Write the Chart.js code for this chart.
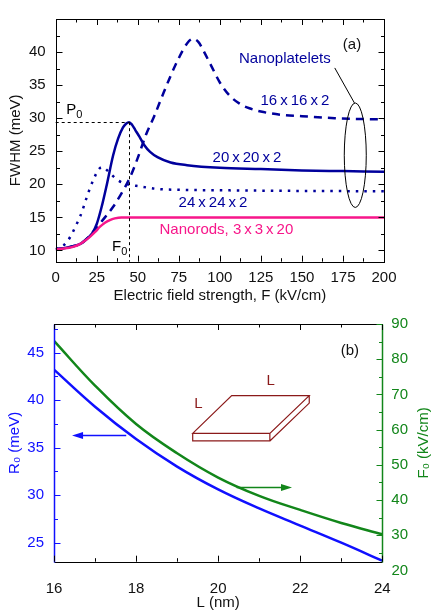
<!DOCTYPE html>
<html>
<head>
<meta charset="utf-8">
<script src="https://cdn.jsdelivr.net/npm/chart.js@4.4.1/dist/chart.umd.min.js"></script>
<style>
  html, body { margin: 0; padding: 0; background: #fff; }
  #top { position: absolute; left: 0; top: 0; width: 434px; height: 305px; }
  #bot { position: absolute; left: 0; top: 305px; width: 434px; height: 307px; }
</style>
</head>
<body>
<div id="top"><canvas id="chart-fwhm"></canvas></div>
<div id="bot"><canvas id="chart-size"></canvas></div>
<script>
// --- (a) FWHM vs electric field ---
const rodF  = [0, 5, 10, 15, 18, 21, 24, 27, 30, 33, 36, 40, 45, 200];
const rodW  = [10.2, 10.3, 10.5, 11.0, 11.5, 12.1, 12.8, 13.6, 14.2, 14.6, 14.85, 15.0, 15.0, 15.0];
const p20F  = [0, 5, 10, 15, 20, 22.5, 25, 28, 31, 35, 38, 41, 43, 44.7, 46.5, 48.5, 51, 54, 57.5, 62, 70, 80, 100, 125, 150, 175, 200];
const p20W  = [10.2, 10.35, 10.6, 11.0, 12.0, 12.7, 14.0, 16.6, 19.8, 24.4, 26.9, 28.6, 29.2, 29.4, 29.0, 28.2, 27.2, 25.9, 24.9, 24.1, 23.3, 22.9, 22.5, 22.3, 22.1, 22.0, 21.9];
const p16F  = [0, 5, 10, 15, 20, 25, 30, 35, 40, 45, 50, 55, 60, 65, 70, 75, 80, 83.5, 87, 90, 95, 100, 106, 112, 118, 125, 138, 150, 170, 200];
const p16W  = [10.2, 10.35, 10.6, 11.0, 12.0, 13.5, 15.0, 16.6, 18.6, 20.9, 24.0, 27.5, 30.3, 33.4, 36.4, 39.1, 41.3, 42.0, 41.5, 40.2, 37.8, 35.4, 33.4, 32.2, 31.5, 31.0, 30.5, 30.3, 30.0, 29.8];
const p24F  = [0, 5, 9, 12, 15, 17, 19, 21, 23.5, 26, 28, 30, 33, 38, 44, 51, 62, 80, 100, 150, 200];
const p24W  = [10.2, 10.8, 12.1, 13.6, 15.2, 16.6, 18.1, 19.5, 21.0, 22.2, 22.6, 22.4, 21.7, 20.6, 20.0, 19.7, 19.3, 19.15, 19.1, 19.0, 18.95];
const peakF0 = 44.7, peakP0 = 29.4;

// --- (b) peak value / peak field vs platelet size ---
const sizeL = [16, 17, 18, 19, 20, 21, 22, 23, 24];
const peakR = [43.2, 39.3, 35.9, 33.0, 30.6, 28.6, 26.8, 25.0, 23.1];
const peakF = [85.2, 72.5, 61.6, 53.3, 46.4, 41.2, 37.2, 33.5, 30.3];
const rTicks = [25, 30, 35, 40, 45];

const NAVY = '#00009c', PINK = '#f7168a', BLUE = '#1010ff', GREEN = '#12861a', BROWN = '#8b1a1a';
const FONT = '"Liberation Sans", Arial, sans-serif';
Chart.defaults.font.family = FONT;
Chart.defaults.font.size = 15;
Chart.defaults.color = '#111';

const pts = (xs, ys) => xs.map((x, i) => ({ x, y: ys[i] }));

function steps(min, max, step) {
  const out = [];
  for (let k = Math.ceil(min / step - 1e-9); k * step <= max + 1e-9; k++) out.push(k * step);
  return out;
}
const isMajor = (v, step) => Math.abs(v / step - Math.round(v / step)) < 1e-6;

function ticksX(ctx, sx, area, minor, major, color) {
  ctx.strokeStyle = color; ctx.lineWidth = 1;
  steps(sx.min, sx.max, minor).forEach(v => {
    const x = Math.round(sx.getPixelForValue(v)) + 0.5;
    const len = isMajor(v, major) ? 6 : 3.5;
    ctx.beginPath();
    ctx.moveTo(x, area.bottom); ctx.lineTo(x, area.bottom - len);
    ctx.moveTo(x, area.top); ctx.lineTo(x, area.top + len);
    ctx.stroke();
  });
}
function ticksY(ctx, sy, edge, dir, minor, major, color) {
  ctx.strokeStyle = color; ctx.lineWidth = 1;
  steps(sy.min, sy.max, minor).forEach(v => {
    const y = Math.round(sy.getPixelForValue(v)) + 0.5;
    const len = isMajor(v, major) ? 6 : 3.5;
    ctx.beginPath(); ctx.moveTo(edge, y); ctx.lineTo(edge + dir * len, y); ctx.stroke();
  });
}
function subText(ctx, base, sub, x, y, color) {
  ctx.fillStyle = color;
  ctx.textBaseline = 'middle'; ctx.textAlign = 'left';
  ctx.font = '15px ' + FONT;
  ctx.fillText(base, x, y);
  const w = ctx.measureText(base).width;
  ctx.font = '11px ' + FONT;
  ctx.fillText(sub, x + w, y + 5);
}
function label(ctx, text, x, y, color) {
  ctx.fillStyle = color; ctx.textAlign = 'center'; ctx.textBaseline = 'middle';
  ctx.font = '15px ' + FONT;
  ctx.fillText(text, x, y);
}
function arrow(ctx, x1, y, x2, color) {
  const d = Math.sign(x2 - x1);
  ctx.strokeStyle = color; ctx.fillStyle = color; ctx.lineWidth = 1.6;
  ctx.beginPath(); ctx.moveTo(x1, y); ctx.lineTo(x2 - d * 8, y); ctx.stroke();
  ctx.beginPath(); ctx.moveTo(x2, y); ctx.lineTo(x2 - d * 11, y - 3.5); ctx.lineTo(x2 - d * 11, y + 3.5); ctx.closePath(); ctx.fill();
}

const TS = '\u2009x\u2009';

const fwhmDecor = {
  id: 'fwhmDecor',
  afterDraw(chart) {
    const { ctx, chartArea: a, scales: { x, y } } = chart;
    const X = v => x.getPixelForValue(v), Y = v => y.getPixelForValue(v);
    ctx.save();
    ctx.strokeStyle = '#000'; ctx.lineWidth = 1;
    ctx.strokeRect(Math.round(a.left) + 0.5, Math.round(a.top) + 0.5, Math.round(a.right - a.left), Math.round(a.bottom - a.top));
    ticksX(ctx, x, a, 12.5, 25, '#000');
    ticksY(ctx, y, Math.round(a.left) + 0.5, 1, 2.5, 5, '#000');
    ticksY(ctx, y, Math.round(a.right) + 0.5, -1, 2.5, 5, '#000');

    // P0 / F0 guides
    ctx.setLineDash([3, 3]); ctx.strokeStyle = '#000';
    ctx.beginPath();
    ctx.moveTo(a.left, Math.round(Y(peakP0)) + 0.5); ctx.lineTo(X(peakF0), Math.round(Y(peakP0)) + 0.5);
    ctx.moveTo(Math.round(X(peakF0)) + 0.5, Y(peakP0)); ctx.lineTo(Math.round(X(peakF0)) + 0.5, a.bottom);
    ctx.stroke();
    ctx.setLineDash([]);
    subText(ctx, 'P', '0', X(6.5), Y(31.2), '#000');
    subText(ctx, 'F', '0', X(34.3), Y(10.6), '#000');

    // nanoplatelet ellipse + leader
    ctx.strokeStyle = '#000'; ctx.lineWidth = 1;
    ctx.beginPath();
    ctx.ellipse(X(182.5), Y(24.4), X(182.5) - X(175.8), Y(16.5) - Y(24.4), 0, 0, Math.PI * 2);
    ctx.stroke();
    ctx.beginPath(); ctx.moveTo(X(170), Y(37.6)); ctx.lineTo(X(182), Y(32.3)); ctx.stroke();

    label(ctx, '(a)', X(180.5), Y(41.1), '#111');
    label(ctx, 'Nanoplatelets', X(139.6), Y(38.9), NAVY);
    label(ctx, '16' + TS + '16' + TS + '2', X(145.7), Y(32.6), NAVY);
    label(ctx, '20' + TS + '20' + TS + '2', X(116.5), Y(23.95), NAVY);
    label(ctx, '24' + TS + '24' + TS + '2', X(95.8), Y(17.2), NAVY);
    label(ctx, 'Nanorods, 3' + TS + '3' + TS + '20', X(104), Y(13.1), PINK);
    ctx.restore();
  }
};

new Chart(document.getElementById('chart-fwhm'), {
  type: 'line',
  data: {
    datasets: [
      { data: pts(rodF, rodW), borderColor: PINK, borderWidth: 2.5 },
      { data: pts(p24F, p24W), borderColor: NAVY, borderWidth: 2.5, borderDash: [2.5, 6] },
      { data: pts(p16F, p16W), borderColor: NAVY, borderWidth: 2.5, borderDash: [8, 6] },
      { data: pts(p20F, p20W), borderColor: NAVY, borderWidth: 2.5 }
    ]
  },
  options: {
    responsive: true, maintainAspectRatio: false, animation: false,
    layout: { padding: { top: 11.7, right: 50, left: 0, bottom: 0 } },
    elements: { point: { radius: 0 }, line: { cubicInterpolationMode: 'monotone' } },
    plugins: { legend: { display: false }, tooltip: { enabled: false } },
    scales: {
      x: {
        type: 'linear', min: 0, max: 200,
        grid: { display: false, drawTicks: false }, border: { display: false },
        ticks: { stepSize: 25, padding: 7, includeBounds: false, color: '#111' },
        title: { display: true, text: 'Electric field strength, F (kV/cm)', padding: { top: 0, bottom: 0 }, color: '#111' },
        afterFit: s => { s.height = 43.3; }
      },
      y: {
        type: 'linear', min: 8.3, max: 45,
        grid: { display: false, drawTicks: false }, border: { display: false },
        ticks: { stepSize: 5, padding: 10, includeBounds: false, color: '#111', callback: v => (v > 40 ? null : v) },
        title: { display: true, text: 'FWHM (meV)', padding: { top: 7, bottom: 0 }, color: '#111' },
        afterFit: s => { s.width = 55.7; }
      }
    }
  },
  plugins: [fwhmDecor]
});

const sizeDecor = {
  id: 'sizeDecor',
  afterDraw(chart) {
    const { ctx, chartArea: a, scales: { x, yL, yR } } = chart;
    const X = v => x.getPixelForValue(v), YL = v => yL.getPixelForValue(v), YR = v => yR.getPixelForValue(v);
    const l = Math.round(a.left) + 0.5, r = Math.round(a.right) + 0.5, t = Math.round(a.top) + 0.5, b = Math.round(a.bottom) + 0.5;
    ctx.save();
    ctx.lineWidth = 1;
    ctx.strokeStyle = '#000';
    ctx.beginPath(); ctx.moveTo(l, t); ctx.lineTo(r, t); ctx.moveTo(l, b); ctx.lineTo(r, b); ctx.stroke();
    ctx.strokeStyle = BLUE; ctx.lineWidth = 1.5;
    ctx.beginPath(); ctx.moveTo(l, t); ctx.lineTo(l, b); ctx.stroke();
    ctx.strokeStyle = GREEN;
    ctx.beginPath(); ctx.moveTo(r, t); ctx.lineTo(r, b); ctx.stroke();
    ticksX(ctx, x, a, 1, 2, '#000');
    ticksY(ctx, yL, l, 1, 2.5, 5, BLUE);
    ticksY(ctx, yR, r, -1, 5, 10, GREEN);

    // out-of-range "20" label on the right axis
    ctx.fillStyle = GREEN; ctx.font = '15px ' + FONT;
    ctx.textAlign = 'left'; ctx.textBaseline = 'middle';
    ctx.fillText('20', r + 9, YR(20));

    // right axis title (reads bottom to top)
    ctx.save();
    ctx.translate(chart.width - 10, (a.top + a.bottom) / 2);
    ctx.rotate(-Math.PI / 2);
    ctx.textAlign = 'center';
    ctx.fillText('F\u2080 (kV/cm)', 0, 0);
    ctx.restore();

    label(ctx, '(b)', X(23.21), YL(45.17), '#111');

    // axis arrows
    arrow(ctx, X(17.76), Math.round(YL(36.3)) + 0.5, X(16.44), BLUE);
    arrow(ctx, X(20.45), Math.round(YR(43.7)) + 0.5, X(21.8), GREEN);

    // platelet sketch
    const th = YL(36.49) - YL(37.28);
    const FL = [X(19.38), YL(36.49)], FR = [X(21.26), YL(36.49)];
    const BR = [X(22.22), YL(40.47)], BL = [X(20.33), YL(40.47)];
    ctx.strokeStyle = BROWN; ctx.lineWidth = 1.2;
    ctx.beginPath();
    ctx.moveTo(FL[0], FL[1]); ctx.lineTo(FR[0], FR[1]); ctx.lineTo(BR[0], BR[1]); ctx.lineTo(BL[0], BL[1]); ctx.closePath();
    ctx.moveTo(FL[0], FL[1]); ctx.lineTo(FL[0], FL[1] + th); ctx.lineTo(FR[0], FR[1] + th); ctx.lineTo(FR[0], FR[1]);
    ctx.moveTo(FR[0], FR[1] + th); ctx.lineTo(BR[0], BR[1] + th); ctx.lineTo(BR[0], BR[1]);
    ctx.stroke();
    label(ctx, 'L', X(19.52), YL(39.6), BROWN);
    label(ctx, 'L', X(21.28), YL(42.0), BROWN);
    ctx.restore();
  }
};

new Chart(document.getElementById('chart-size'), {
  type: 'line',
  data: {
    labels: sizeL,
    datasets: [
      { data: peakR, yAxisID: 'yL', borderColor: BLUE, borderWidth: 2.5 },
      { data: peakF, yAxisID: 'yR', borderColor: GREEN, borderWidth: 2.5 }
    ]
  },
  options: {
    responsive: true, maintainAspectRatio: false, animation: false,
    layout: { padding: { top: 15.7, right: 0, left: 0, bottom: 0 } },
    elements: { point: { radius: 0 }, line: { tension: 0.4 } },
    plugins: { legend: { display: false }, tooltip: { enabled: false } },
    scales: {
      x: {
        type: 'linear', min: 16, max: 24,
        grid: { display: false, drawTicks: false }, border: { display: false },
        ticks: { stepSize: 2, padding: 18, color: '#111' },
        title: { display: true, text: 'L (nm)', padding: { top: 0, bottom: 0 }, color: '#111' },
        afterFit: s => { s.height = 50.3; }
      },
      yL: {
        type: 'linear', position: 'left', min: 23, max: 48,
        grid: { display: false, drawTicks: false }, border: { display: false },
        ticks: { padding: 10, color: BLUE },
        afterBuildTicks: s => { s.ticks = rTicks.map(v => ({ value: v })); },
        title: { display: true, text: 'R\u2080 (meV)', padding: { top: 6, bottom: 0 }, color: BLUE },
        afterFit: s => { s.width = 54; }
      },
      yR: {
        type: 'linear', position: 'right', min: 22.5, max: 90,
        grid: { display: false, drawTicks: false }, border: { display: false },
        ticks: { stepSize: 10, padding: 9, includeBounds: false, color: GREEN },
        afterFit: s => { s.width = 51.7; }
      }
    }
  },
  plugins: [sizeDecor]
});
</script>
</body>
</html>
